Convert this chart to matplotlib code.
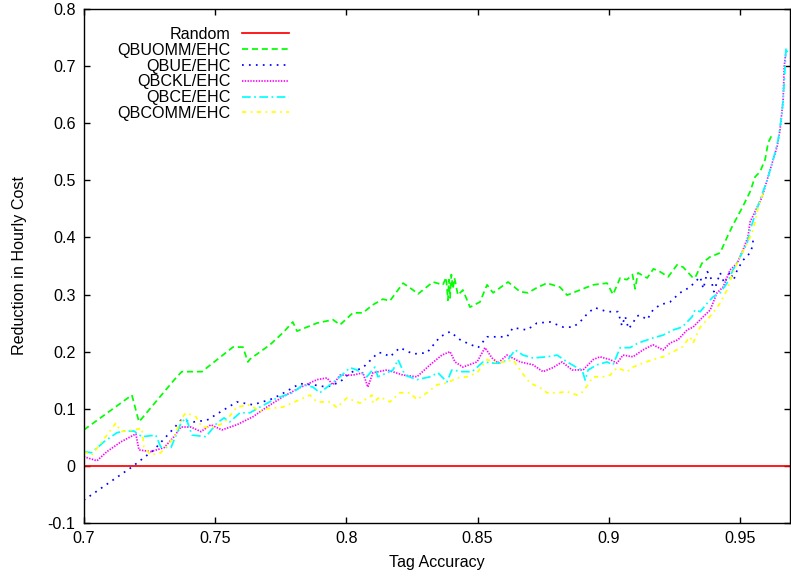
import matplotlib
matplotlib.use("Agg")
import matplotlib.pyplot as plt

plt.rcParams['font.family'] = ['Liberation Sans', 'DejaVu Sans']
plt.rcParams['font.size'] = 11.6

# Random baseline
random_x = [0.70, 0.969]
random_y = [0.0, 0.0]

# QBUOMM/EHC
qbuomm_x = [0.7000, 0.7183, 0.7210, 0.7343, 0.7373, 0.7450, 0.7568, 0.7606, 0.7625, 0.7633,
            0.7709, 0.7758, 0.7796, 0.7812, 0.7850, 0.7888, 0.7949, 0.7976, 0.8025, 0.8063,
            0.8101, 0.8139, 0.8166, 0.8216, 0.8254, 0.8273, 0.8330, 0.8368, 0.8380, 0.8387,
            0.8391, 0.8395, 0.8400, 0.8406, 0.8412, 0.8425, 0.8444, 0.8471, 0.8509, 0.8536,
            0.8559, 0.8616, 0.8662, 0.8692, 0.8726, 0.8764, 0.8814, 0.8841, 0.8890, 0.8940,
            0.8993, 0.9016, 0.9043, 0.9069, 0.9090, 0.9100, 0.9111, 0.9146, 0.9170, 0.9195,
            0.9226, 0.9260, 0.9283, 0.9317, 0.9328, 0.9355, 0.9386, 0.9424, 0.9454, 0.9473,
            0.9508, 0.9538, 0.9557, 0.9576, 0.9595, 0.9607, 0.9622]
qbuomm_y = [0.063, 0.124, 0.077, 0.150, 0.165, 0.165, 0.208, 0.208, 0.182, 0.187,
            0.212, 0.233, 0.252, 0.236, 0.243, 0.250, 0.256, 0.247, 0.268, 0.268,
            0.282, 0.292, 0.289, 0.320, 0.308, 0.301, 0.322, 0.317, 0.330, 0.290,
            0.326, 0.294, 0.335, 0.310, 0.329, 0.299, 0.308, 0.278, 0.287, 0.317,
            0.303, 0.322, 0.305, 0.303, 0.312, 0.320, 0.313, 0.299, 0.308, 0.317,
            0.320, 0.300, 0.329, 0.326, 0.335, 0.310, 0.338, 0.329, 0.345, 0.340,
            0.331, 0.352, 0.348, 0.331, 0.329, 0.355, 0.366, 0.373, 0.404, 0.422,
            0.452, 0.480, 0.506, 0.515, 0.536, 0.566, 0.580]

# QBUE/EHC
qbue_x = [0.7000, 0.7126, 0.7183, 0.7267, 0.7343, 0.7370, 0.7419, 0.7469, 0.7522, 0.7583,
          0.7644, 0.7709, 0.7747, 0.7823, 0.7873, 0.7926, 0.7976, 0.8014, 0.8063, 0.8101,
          0.8120, 0.8139, 0.8166, 0.8204, 0.8254, 0.8307, 0.8357, 0.8395, 0.8433, 0.8460,
          0.8502, 0.8536, 0.8574, 0.8612, 0.8635, 0.8688, 0.8726, 0.8776, 0.8826, 0.8864,
          0.8890, 0.8921, 0.8947, 0.8993, 0.9035, 0.9050, 0.9062, 0.9075, 0.9092, 0.9105,
          0.9119, 0.9146, 0.9168, 0.9195, 0.9233, 0.9271, 0.9309, 0.9348, 0.9360, 0.9375,
          0.9386, 0.9400, 0.9424, 0.9440, 0.9462, 0.9475, 0.9489, 0.9511, 0.9538, 0.9546,
          0.9550]
qbue_y = [-0.060, -0.020, -0.002, 0.028, 0.066, 0.080, 0.077, 0.080, 0.095, 0.112,
          0.107, 0.116, 0.124, 0.144, 0.142, 0.138, 0.147, 0.163, 0.172, 0.189,
          0.198, 0.198, 0.191, 0.207, 0.196, 0.198, 0.226, 0.235, 0.221, 0.215,
          0.207, 0.226, 0.226, 0.226, 0.242, 0.238, 0.250, 0.252, 0.243, 0.243,
          0.252, 0.268, 0.277, 0.270, 0.270, 0.245, 0.262, 0.240, 0.250, 0.262,
          0.264, 0.256, 0.273, 0.282, 0.287, 0.303, 0.313, 0.331, 0.310, 0.340,
          0.334, 0.305, 0.338, 0.320, 0.340, 0.325, 0.343, 0.360, 0.373, 0.383,
          0.396]

# QBCKL/EHC
qbckl_x = [0.7000, 0.7050, 0.7088, 0.7141, 0.7198, 0.7210, 0.7255, 0.7306, 0.7343, 0.7370,
           0.7408, 0.7446, 0.7484, 0.7526, 0.7583, 0.7644, 0.7697, 0.7758, 0.7823, 0.7888,
           0.7926, 0.7949, 0.7976, 0.8025, 0.8063, 0.8082, 0.8101, 0.8155, 0.8216, 0.8269,
           0.8319, 0.8364, 0.8395, 0.8414, 0.8444, 0.8498, 0.8528, 0.8555, 0.8578, 0.8612,
           0.8662, 0.8711, 0.8749, 0.8787, 0.8822, 0.8860, 0.8902, 0.8940, 0.8966, 0.9005,
           0.9031, 0.9054, 0.9092, 0.9130, 0.9168, 0.9207, 0.9233, 0.9264, 0.9298, 0.9321,
           0.9348, 0.9386, 0.9412, 0.9435, 0.9462, 0.9489, 0.9511, 0.9530, 0.9538, 0.9584,
           0.9614, 0.9641, 0.9652, 0.9664, 0.9668, 0.9675]
qbckl_y = [0.016, 0.009, 0.025, 0.042, 0.056, 0.028, 0.025, 0.032, 0.051, 0.068,
           0.068, 0.060, 0.072, 0.063, 0.072, 0.086, 0.103, 0.121, 0.137, 0.151,
           0.154, 0.142, 0.159, 0.159, 0.163, 0.138, 0.163, 0.168, 0.159, 0.156,
           0.177, 0.194, 0.200, 0.182, 0.173, 0.182, 0.207, 0.189, 0.180, 0.194,
           0.182, 0.177, 0.165, 0.172, 0.182, 0.168, 0.168, 0.186, 0.191, 0.186,
           0.180, 0.194, 0.191, 0.203, 0.212, 0.203, 0.215, 0.221, 0.238, 0.243,
           0.256, 0.273, 0.303, 0.313, 0.343, 0.355, 0.378, 0.401, 0.427, 0.471,
           0.518, 0.559, 0.588, 0.641, 0.699, 0.728]

# QBCE/EHC
qbce_x = [0.7000, 0.7030, 0.7076, 0.7126, 0.7152, 0.7191, 0.7221, 0.7274, 0.7293, 0.7332,
          0.7370, 0.7389, 0.7412, 0.7465, 0.7507, 0.7534, 0.7556, 0.7595, 0.7633, 0.7671,
          0.7736, 0.7796, 0.7835, 0.7873, 0.7899, 0.7938, 0.7976, 0.8014, 0.8040, 0.8078,
          0.8109, 0.8120, 0.8155, 0.8178, 0.8197, 0.8223, 0.8269, 0.8319, 0.8349, 0.8383,
          0.8402, 0.8441, 0.8479, 0.8521, 0.8559, 0.8585, 0.8616, 0.8643, 0.8673, 0.8711,
          0.8764, 0.8803, 0.8841, 0.8879, 0.8898, 0.8910, 0.8921, 0.8955, 0.8993, 0.9016,
          0.9043, 0.9081, 0.9111, 0.9168, 0.9207, 0.9245, 0.9279, 0.9298, 0.9317, 0.9328,
          0.9348, 0.9375, 0.9397, 0.9424, 0.9450, 0.9473, 0.9500, 0.9527, 0.9538, 0.9576,
          0.9603, 0.9626, 0.9645, 0.9660, 0.9668, 0.9675, 0.9683]
qbce_y = [0.025, 0.023, 0.042, 0.058, 0.061, 0.061, 0.051, 0.054, 0.033, 0.032,
          0.075, 0.084, 0.054, 0.051, 0.075, 0.084, 0.077, 0.093, 0.093, 0.103,
          0.119, 0.128, 0.142, 0.138, 0.128, 0.142, 0.156, 0.172, 0.168, 0.156,
          0.173, 0.156, 0.163, 0.168, 0.186, 0.159, 0.151, 0.156, 0.163, 0.147,
          0.168, 0.165, 0.165, 0.182, 0.180, 0.180, 0.186, 0.203, 0.194, 0.189,
          0.191, 0.194, 0.182, 0.172, 0.168, 0.150, 0.168, 0.177, 0.182, 0.177,
          0.207, 0.207, 0.215, 0.224, 0.229, 0.238, 0.243, 0.252, 0.261, 0.273,
          0.270, 0.285, 0.296, 0.303, 0.320, 0.343, 0.366, 0.390, 0.413, 0.466,
          0.500, 0.536, 0.571, 0.618, 0.670, 0.732, 0.720]

# QBCOMM/EHC
qbcomm_x = [0.7000, 0.7030, 0.7065, 0.7122, 0.7141, 0.7191, 0.7221, 0.7229, 0.7255, 0.7293,
            0.7343, 0.7373, 0.7389, 0.7427, 0.7450, 0.7488, 0.7534, 0.7583, 0.7633, 0.7671,
            0.7697, 0.7758, 0.7823, 0.7861, 0.7888, 0.7938, 0.7964, 0.8002, 0.8052, 0.8098,
            0.8101, 0.8128, 0.8166, 0.8204, 0.8242, 0.8269, 0.8307, 0.8345, 0.8383, 0.8421,
            0.8460, 0.8498, 0.8536, 0.8566, 0.8604, 0.8635, 0.8662, 0.8681, 0.8700, 0.8738,
            0.8764, 0.8803, 0.8841, 0.8879, 0.8902, 0.8940, 0.8978, 0.9005, 0.9031, 0.9069,
            0.9092, 0.9130, 0.9168, 0.9207, 0.9245, 0.9279, 0.9309, 0.9321, 0.9348, 0.9375,
            0.9397, 0.9424, 0.9450, 0.9473, 0.9500, 0.9527, 0.9550, 0.9569, 0.9588]
qbcomm_y = [0.025, 0.019, 0.040, 0.075, 0.060, 0.063, 0.066, 0.033, 0.019, 0.023,
            0.049, 0.084, 0.093, 0.086, 0.068, 0.067, 0.075, 0.103, 0.107, 0.095,
            0.100, 0.103, 0.116, 0.124, 0.112, 0.112, 0.102, 0.119, 0.110, 0.124,
            0.110, 0.121, 0.112, 0.128, 0.128, 0.116, 0.128, 0.142, 0.145, 0.154,
            0.156, 0.163, 0.186, 0.182, 0.182, 0.186, 0.168, 0.156, 0.145, 0.137,
            0.128, 0.128, 0.130, 0.124, 0.130, 0.156, 0.156, 0.159, 0.172, 0.165,
            0.173, 0.180, 0.186, 0.191, 0.200, 0.208, 0.226, 0.215, 0.243, 0.256,
            0.268, 0.285, 0.308, 0.338, 0.366, 0.390, 0.413, 0.453, 0.478]

fig = plt.figure(figsize=(7.91, 5.77), dpi=100)
ax = fig.add_axes([0.106, 0.0936, 0.8927, 0.8908])

lw = 1.25
ax.plot(random_x, random_y, color='#ff0000', lw=lw, label='Random')
ax.plot(qbuomm_x, qbuomm_y, color='#00ff00', lw=lw, dashes=(3.5, 2.2), label='QBUOMM/EHC')
ax.plot(qbue_x, qbue_y, color='#0000ff', lw=lw, dashes=(1, 3), label='QBUE/EHC')
ax.plot(qbckl_x, qbckl_y, color='#ff00ff', lw=lw, dashes=(0.8, 0.8), label='QBCKL/EHC')
ax.plot(qbce_x, qbce_y, color='#00ffff', lw=lw, dashes=(5, 2, 1, 2), label='QBCE/EHC')
ax.plot(qbcomm_x, qbcomm_y, color='#ffff00', lw=lw, dashes=(2.5, 2.5, 1, 2.5), label='QBCOMM/EHC')

ax.set_xlim(0.7, 0.969)
ax.set_ylim(-0.1, 0.8)
ax.set_xticks([0.7, 0.75, 0.8, 0.85, 0.9, 0.95])
ax.set_xticklabels(['0.7', '0.75', '0.8', '0.85', '0.9', '0.95'])
ax.set_yticks([-0.1, 0, 0.1, 0.2, 0.3, 0.4, 0.5, 0.6, 0.7, 0.8])
ax.set_yticklabels(['-0.1', '0', '0.1', '0.2', '0.3', '0.4', '0.5', '0.6', '0.7', '0.8'])
ax.tick_params(direction='in', length=4.5, width=1, top=True, right=True, pad=6)
for s in ax.spines.values():
    s.set_linewidth(1)

ax.set_xlabel('Tag Accuracy', labelpad=6)
ax.set_ylabel('Reduction in Hourly Cost', labelpad=15)

ax.legend(loc='upper right', bbox_to_anchor=(0.29, 0.965), frameon=False,
          markerfirst=False, handlelength=2.9, handletextpad=0.7,
          labelspacing=0.05, borderpad=0, borderaxespad=0)

fig.savefig('out.png', dpi=100)
